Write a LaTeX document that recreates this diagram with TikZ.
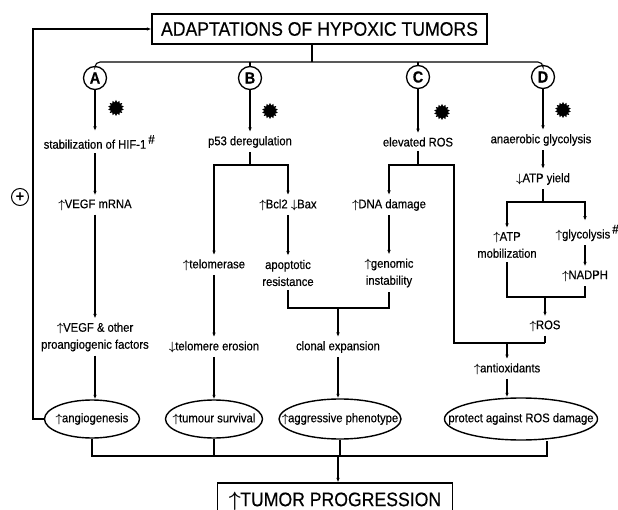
\documentclass[tikz,border=0pt]{standalone}
\usepackage{fontspec}
\setmainfont[FakeStretch=0.9, FakeBold=0.4]{Liberation Sans}
\usepackage{tikz}
\usetikzlibrary{arrows.meta}
\usetikzlibrary{shapes.geometric}
\colorlet{colbg}{white}
\colorlet{colfg}{black}
\tikzstyle{line}=[line width=1.1pt, colfg]
\tikzstyle{arr}=[line, -{Latex[length=4.5pt,width=3.5pt]}]
\tikzstyle{txt}=[font=\fontsize{12.5}{17}\selectfont, align=center, inner sep=4pt]
\tikzstyle{oval}=[ellipse, draw=colfg, line width=1.4pt, inner sep=0pt, font=\fontsize{12.5}{14}\selectfont]
\tikzstyle{letter}=[circle, draw=colfg, line width=1.3pt, minimum size=23pt, inner sep=0pt, font=\bfseries\fontsize{16}{16}\selectfont]
\tikzstyle{burst}=[star, star points=14, star point ratio=1.4, fill=colfg, minimum size=16pt, inner sep=0pt]
\tikzstyle{headbox}=[draw=colfg, line width=1.2pt, inner sep=0pt, font=\fontsize{19.6}{20}\selectfont]
\newcommand{\hashmark}{\rlap{\raisebox{5pt}{\,\#}}}
\newcommand{\upar}{{\boldmath$\uparrow$}\kern-0.5pt}
\newcommand{\dnar}{{\boldmath$\downarrow$}\kern-0.5pt}

\begin{document}
\begin{tikzpicture}[x=1pt, y=-1pt]
      \useasboundingbox (0,0) rectangle (618,510);
      % Header and the four branches
      \node[headbox, minimum width=335pt, minimum height=30pt] (title) at (319.5,29) {ADAPTATIONS OF HYPOXIC TUMORS};
      \coordinate (bar) at (312,62);
      \node[letter] (A) at (95,78) {A};
      \node[letter] (B) at (250,78) {B};
      \node[letter] (C) at (418,77) {C};
      \node[letter] (D) at (543,77) {D};
      \draw[line] (title.south -| bar) -- (bar);
      \draw[line, rounded corners=5pt] (A.north) |- (bar) -| (D.north);
      \draw[line] (B.north) -- (B.north |- bar) (C.north) -- (C.north |- bar);
      \node[burst] (sA) at (116,108) {};
      \node[burst] (sB) at (270,111) {};
      \node[burst] (sC) at (442,112) {};
      \node[burst] (sD) at (563,110) {};

      % A: HIF-1 and angiogenesis
      \node[txt] (hif) at (95,142) {stabilization of HIF-1\hashmark};
      \node[txt] (vegfm) at (95,205) {\upar VEGF mRNA};
      \node[txt] (vegf) at (95,337) {\upar VEGF \& other\\proangiogenic factors};
      \node[oval, minimum width=95pt, minimum height=38pt] (angio) at (92,419) {\makebox[0pt]{\upar angiogenesis}};
      \draw[arr] (A) -- (hif);
      \draw[arr] (hif) -- (vegfm);
      \draw[arr] (vegfm) -- (vegf);
      \draw[arr] (vegf) -- (vegf |- angio.north);

      % B: p53
      \node[txt] (p53) at (250,142) {p53 deregulation};
      \coordinate (splitB) at (250,165);
      \node[txt] (telo) at (214,265) {\upar telomerase};
      \node[txt] (bcl) at (288,205) {\upar Bcl2 \dnar Bax};
      \node[txt] (apo) at (288,273) {apoptotic\\resistance};
      \node[txt] (eros) at (214,347) {\dnar telomere erosion};
      \node[oval, minimum width=97pt, minimum height=38pt] (surv) at (214,419) {\makebox[0pt]{\upar tumour survival}};
      \draw[arr] (B) -- (p53);
      \draw[line] (p53) -- (splitB);
      \draw[arr] (splitB) -| (telo);
      \draw[arr] (splitB) -| (bcl);
      \draw[arr] (bcl) -- (apo);
      \draw[arr] (telo) -- (eros);
      \draw[arr] (eros) -- (surv);

      % C: ROS
      \node[txt] (ros) at (418,142) {elevated ROS};
      \coordinate (splitC) at (418,165);
      \coordinate (cright) at (454,343);
      \node[txt] (dna) at (389,205) {\upar DNA damage};
      \node[txt] (geno) at (389,273) {\upar genomic\\instability};
      \draw[arr] (C) -- (ros);
      \draw[line] (ros) -- (splitC);
      \draw[arr] (splitC) -| (dna);
      \draw[arr] (dna) -- (geno);

      % clonal expansion from B and C
      \coordinate (joinBC) at (338,308);
      \node[txt] (clonal) at (338,347) {clonal expansion};
      \node[oval, minimum width=122pt, minimum height=40pt] (aggr) at (340,419) {\makebox[0pt]{\upar aggressive phenotype}};
      \draw[line] (apo) |- (joinBC) -| (geno);
      \draw[arr] (joinBC) -- (clonal);
      \draw[arr] (clonal) -- (clonal |- aggr.north);

      % D: glycolysis
      \node[txt] (ana) at (541,140) {anaerobic glycolysis};
      \node[txt] (atp) at (543,179) {\dnar ATP yield};
      \coordinate (splitD) at (543,202);
      \node[txt] (mob) at (507,245) {\upar ATP\\mobilization};
      \node[txt] (gly) at (583,233) {\upar glycolysis\hashmark};
      \node[txt] (nadph) at (585,276) {\upar NADPH};
      \coordinate (joinD) at (545,297);
      \node[txt] (ros2) at (545,326) {\upar ROS};
      \draw[arr] (D) -- (D |- ana.north);
      \draw[arr] (ana.south -| atp) -- (atp);
      \draw[line] (atp) -- (splitD);
      \draw[arr] (splitD) -| (mob);
      \draw[arr] (splitD) -| (nadph |- gly.north);
      \draw[arr] (gly.south -| nadph) -- (nadph);
      \draw[line] (mob) |- (joinD) -| (nadph);
      \draw[arr] (joinD) -- (ros2);

      % antioxidants from C and D
      \coordinate (joinCD) at (545,343);
      \node[txt] (anti) at (507,369) {\upar antioxidants};
      \node[oval, minimum width=153pt, minimum height=42pt] (prot) at (521,419) {\makebox[0pt]{protect against ROS damage}};
      \draw[line] (splitC) -| (cright) -- (joinCD);
      \draw[line] (ros2) -- (joinCD);
      \draw[arr] (anti |- joinCD) -- (anti);
      \draw[arr] (anti) -- (anti |- prot.north);

      % Progression
      \coordinate (busR) at (547,456);
      \coordinate (busM) at (338,456);
      \node[headbox, minimum width=235pt, minimum height=36pt] (prog) at (335,501) {\upar TUMOR PROGRESSION};
      \draw[line] (angio) |- (busR) -- (busR |- prot.south);
      \draw[line] (surv) -- (surv |- busR);
      \draw[line] (aggr) -- (aggr |- busR);
      \draw[arr] (busM) -- (busM |- prog.north);

      % feedback loop
      \coordinate (fb) at (33,29);
      \node[circle, draw=colfg, line width=1pt, minimum size=17pt, inner sep=0pt, font=\fontsize{16}{16}\selectfont] (plus) at (20,197) {+};
      \draw[arr] (angio.west) -| (fb) -- (title.west);
    \end{tikzpicture}
\end{document}
